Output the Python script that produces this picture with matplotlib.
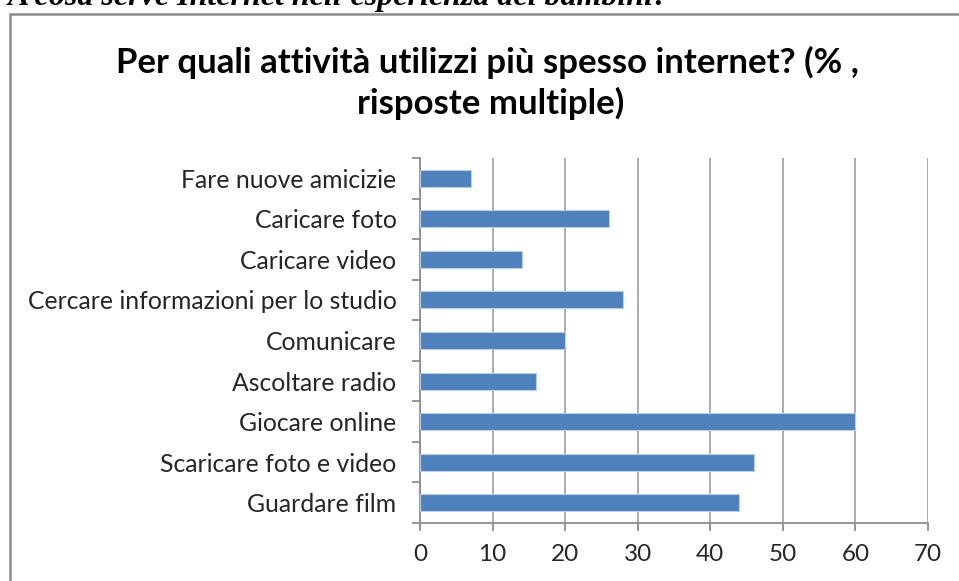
import numpy as np
import matplotlib.pyplot as plt
from matplotlib.patches import Rectangle

# attività (dal basso verso l'alto) e percentuali
attivita = ["Guardare film", "Scaricare foto e video", "Giocare online",
            "Ascoltare radio", "Comunicare", "Cercare informazioni per lo studio",
            "Caricare video", "Caricare foto", "Fare nuove amicizie"]
percentuali = [44, 46, 60, 16, 20, 28, 14, 26, 7]
xticks = [0, 10, 20, 30, 40, 50, 60, 70]

plt.rcParams['font.family'] = ['Lato', 'DejaVu Sans']

fig = plt.figure(figsize=(9.59, 5.81), dpi=100)

# cornice del grafico
fig.patches.append(Rectangle((10/959, -0.1), 1.1, 1 - 14/581 + 0.1,
                             transform=fig.transFigure, fill=False,
                             edgecolor='#8c8c8c', linewidth=1.8))

fig.text(8/959, 1 - 5/581, "A cosa serve Internet nell'esperienza dei bambini?",
         family='Liberation Serif', fontweight='bold', fontstyle='italic',
         fontsize=23, ha='left', va='baseline')

ax = fig.add_axes([420/959, 1 - 523/581, 508/959, 365/581])
y = np.arange(len(attivita))
ax.barh(y, percentuali, height=0.42, color='#4f81bd', edgecolor='#b9cde5', linewidth=0.8, zorder=3)

ax.set_xlim(0, 70)
ax.set_ylim(-0.5, len(attivita) - 0.5)
ax.set_xticks(xticks)
ax.set_xticklabels([str(v) for v in xticks])
ax.xaxis.grid(True, color='#a6a6a6', linewidth=1.3, zorder=0)

# etichette al centro, tacche tra le categorie
ax.set_yticks(np.arange(len(attivita) + 1) - 0.5)
ax.set_yticklabels([])
ax.set_yticks(y, minor=True)
ax.set_yticklabels(attivita, minor=True)
ax.tick_params(axis='y', which='minor', length=0, pad=17, labelsize=17.8, labelcolor='#262626')
ax.tick_params(axis='y', which='major', length=6, width=1.3, color='#8c8c8c', direction='out')
ax.tick_params(axis='x', length=6, width=1.3, color='#8c8c8c', direction='out', pad=9,
               labelsize=17.5, labelcolor='#262626')

for s in ['top', 'right']:
    ax.spines[s].set_visible(False)
for s in ['left', 'bottom']:
    ax.spines[s].set_color('#8c8c8c')
    ax.spines[s].set_linewidth(1.3)

fig.text(487/959, 1 - 62/581, "Per quali attività utilizzi più spesso internet? (% ,",
         fontsize=25, fontweight='bold', ha='center', va='center', color='black')
fig.text(491/959, 1 - 103/581, "risposte multiple)",
         fontsize=25, fontweight='bold', ha='center', va='center', color='black')

fig.savefig('out.png', dpi=100)
